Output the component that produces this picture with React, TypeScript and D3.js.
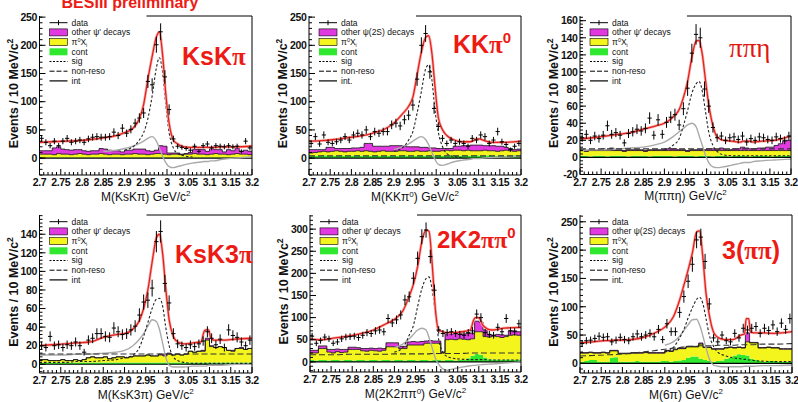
import * as d3 from 'd3'
import type { ReactNode } from 'react'

type V = number | null

const M_LO = 2.7
const M_HI = 3.2
const BIN = 0.01

// masses (GeV/c^2) at which the fit curves are sampled, shared by all channels
const CURVE_M = [2.70, 2.73, 2.76, 2.79, 2.82, 2.85, 2.88, 2.90, 2.92, 2.935, 2.945, 2.955, 2.965, 2.975, 2.982, 2.99, 2.997, 3.005, 3.015, 3.025, 3.04, 3.06, 3.08, 3.088, 3.092, 3.098, 3.102, 3.11, 3.13, 3.16, 3.20]

const X_TICKS = [2.7, 2.75, 2.8, 2.85, 2.9, 2.95, 3, 3.05, 3.1, 3.15, 3.2]
const X_TICK_LABELS = ['2.7', '2.75', '2.8', '2.85', '2.9', '2.95', '3', '3.05', '3.1', '3.15', '3.2']

// ---- KsKπ
const KSKPI_DATA = [35, 28, 22, 30, 22, 30, 35, 28, 30, 32, 28, 34, 37, 38, 37, 37, 38, 46, 40, 53, 44, 51, 62, 71, 80, 136, 130, 201, 224, 144, 86, 34, 21, 19, 17, 14, 21, 12, 22, 25, 18, 22, 21, 20, 22, 20, 21, 12, 30, 18]
const KSKPI_CONT = [1, 1, 1, 1, 1, 1, 1, 1, 1, 1, 1, 1, 1, 1, 1, 1, 1, 1, 1, 1, 1, 1, 1, 1, 1, 1, 1, 1, 1, 1, 1, 1, 1, 1, 1, 1, 1, 1, 1, 1, 1, 1, 1, 1, 1, 1, 1, 1, 1, 1]
const KSKPI_PI0X = [6, 6, 6, 5, 7, 6, 6, 5, 6, 7, 6, 5, 6, 6, 7, 6, 5, 6, 6, 5, 6, 6, 7, 6, 6, 5, 6, 7, 7, 6, 5, 6, 6, 5, 6, 6, 7, 6, 6, 5, 6, 7, 6, 6, 5, 6, 7, 6, 6, 5]
const KSKPI_OTHER = [6, 6, 6, 12, 12, 9, 8, 8, 8, 7, 6, 6, 6, 6, 9, 9, 8, 6, 6, 5, 7, 7, 8, 9, 9, 7, 5, 6, 14, 14, 3, 2, 2, 1, 1, 3, 7, 9, 8, 6, 10, 7, 8, 4, 9, 6, 10, 5, 7, 6]
const KSKPI_FIT: V[] = [28, 29, 30, 31, 33, 36, 40, 45, 53, 70, 95, 140, 180, 215, 224, 180, 115, 62, 32, 25, 20, 19, 19, 19, 19, 19, 19, 19, 20, 20, 21]
const KSKPI_SIG: V[] = [null, null, null, null, null, null, null, 14, 20, 32, 45, 70, 110, 160, 178, 150, 95, 45, 18, 8, 4, 2, null, null, null, null, null, null, null, null, null]
const KSKPI_INT: V[] = [null, null, null, null, null, 12, 14, 17, 21, 26, 30, 35, 38, 30, 18, 3, -8, -15, -17, -15, -12, -9, -7, -6, -6, -6, -5, -5, -2, 0, 2]
const KSKPI_NONRESO: V[] = []

// ---- KKπ0
const KKPI0_DATA = [26, 38, 25, 41, 28, 26, 29, 32, 38, 32, 41, 44, 41, 50, 38, 47, 44, 47, 47, 59, 62, 57, 68, 76, 94, 140, 200, 221, 153, 88, 56, 35, 26, 32, 26, 29, 26, 21, 35, 32, 41, 38, 26, 32, 47, 29, 24, 15, 21, 26]
const KKPI0_CONT = [4, 4, 4, 5, 4, 4, 4, 5, 4, 4, 4, 5, 4, 4, 4, 5, 4, 4, 4, 5, 4, 4, 5, 4, 4, 4, 5, 4, 4, 4, 5, 4, 4, 5, 4, 4, 5, 4, 4, 5, 4, 4, 5, 4, 4, 5, 4, 4, 5, 4]
const KKPI0_PI0X = [5, 6, 7, 7, 7, 8, 9, 7, 7, 8, 8, 8, 8, 9, 8, 6, 8, 9, 8, 7, 8, 9, 8, 8, 8, 9, 7, 8, 9, 8, 7, 9, 10, 8, 10, 10, 8, 10, 9, 8, 9, 10, 8, 9, 8, 8, 10, 9, 7, 9]
const KKPI0_OTHER = [6, 5, 4, 3, 8, 7, 4, 5, 6, 5, 6, 5, 7, 13, 14, 10, 9, 8, 9, 10, 10, 9, 8, 8, 8, 7, 7, 7, 5, 6, 5, 4, 3, 4, 7, 7, 9, 8, 10, 10, 10, 8, 9, 9, 9, 8, 5, 4, 3, 3]
const KKPI0_FIT: V[] = [30, 31, 33, 36, 39, 44, 52, 62, 78, 92, 108, 148, 188, 214, 217, 185, 128, 72, 50, 40, 33, 29, 29, 31, 33, 34, 34, 32, 28, 28, 30]
const KKPI0_SIG: V[] = [null, null, null, null, null, null, null, 12, 18, 32, 47, 80, 118, 158, 165, 138, 86, 46, 20, 8, 3, 1, null, null, null, null, null, null, null, null, null]
const KKPI0_INT: V[] = [null, null, null, null, null, null, null, 15, 20, 25, 30, 35, 38, 33, 24, 10, -2, -11, -13, -11, -7, -4, -2, -1, -1, -1, -1, 0, 1, 2, 3]
const KKPI0_NONRESO: V[] = [4, 4, 4, 4, 4, 4, 4, 4, 4, 4, 4, 4, 4, 4, 4, 4, 4, 4, 4, 4, 4, 4, 4, 4, 4, 4, 4, 4, 4, 4, 4]

// ---- ππη
const PIPIETA_DATA = [23, 27, 20, 25, 22, 26, 37, 27, 29, 26, 17, 28, 30, 33, 31, 34, 46, 26, 44, 27, 41, 47, 50, 38, 57, 81, 122, 144, 140, 80, 60, 35, 23, 25, 20, 23, 24, 21, 25, 18, 22, 20, 24, 23, 21, 20, 24, 22, 20, 25]
const PIPIETA_CONT = [2, 2, 1, 2, 2, 2, 1, 2, 2, 2, 2, 1, 2, 2, 2, 2, 1, 2, 2, 2, 2, 2, 1, 2, 2, 2, 2, 1, 2, 2, 2, 1, 2, 2, 2, 1, 2, 2, 2, 2, 1, 2, 2, 2, 2, 1, 2, 2, 2, 2]
const PIPIETA_PI0X = [6, 5, 7, 6, 6, 6, 7, 6, 6, 6, 5, 7, 6, 6, 6, 5, 7, 6, 6, 6, 6, 6, 7, 6, 6, 5, 6, 7, 6, 6, 6, 7, 6, 6, 6, 7, 6, 6, 6, 6, 7, 6, 6, 6, 6, 7, 6, 6, 6, 6]
const PIPIETA_OTHER = [1, 1, 1, 1, 1, 2, 1, 3, 1, 1, 1, 1, 1, 1, 1, 1, 1, 1, 1, 1, 2, 2, 2, 1, 1, 1, 1, 1, 1, 1, 2, 2, 1, 3, 1, 1, 2, 2, 4, 3, 2, 2, 3, 3, 4, 4, 6, 8, 11, 12]
const PIPIETA_FIT: V[] = [22, 23, 25, 27, 29, 33, 37, 40, 47, 56, 70, 89, 117, 136, 137, 120, 92, 62, 37, 24, 20, 19, 18, 19, 19, 19, 19, 18, 19, 20, 25]
const PIPIETA_SIG: V[] = [null, null, null, null, null, null, null, 8, 14, 22, 37, 55, 75, 86, 89, 77, 55, 30, 14, 7, 3, 2, 2, 2, 2, 2, 2, 2, 2, 2, 2]
const PIPIETA_INT: V[] = [8, 9, 9, 10, 11, 12, 15, 18, 24, 30, 34, 38, 40, 36, 26, 14, 3, -6, -11, -12, -11, -9, -7, -6, -6, -6, -6, -5, -4, -3, -2]
const PIPIETA_NONRESO: V[] = [10, 10, 10, 10, 10, 10, 10, 10, 10, 10, 10, 10, 10, 10, 10, 10, 10, 10, 10, 10, 10, 10, 10, 10, 10, 10, 10, 10, 10, 10, 10]

// ---- KsK3π
const KSK3PI_DATA = [20, 18, 30, 20, 21, 18, 21, 20, 24, 20, 13, 26, 28, 33, 33, 30, 29, 39, 35, 32, 33, 37, 41, 53, 67, 69, 82, 132, 143, 87, 66, 33, 22, 20, 18, 21, 19, 22, 25, 35, 28, 21, 27, 18, 37, 31, 29, 24, 20, 26]
const KSK3PI_CONT = [2, 2, 2, 2, 2, 2, 2, 2, 2, 2, 2, 2, 2, 2, 2, 2, 2, 2, 2, 2, 2, 2, 2, 2, 2, 2, 2, 2, 2, 2, 2, 2, 2, 2, 2, 2, 2, 2, 2, 2, 2, 2, 2, 2, 2, 2, 2, 2, 2, 2]
const KSK3PI_PI0X = [3, 3, 2, 2, 2, 3, 2, 2, 3, 2, 3, 5, 6, 5, 5, 6, 4, 5, 6, 6, 5, 6, 7, 7, 7, 8, 7, 7, 8, 7, 9, 8, 9, 8, 9, 12, 11, 12, 12, 24, 17, 16, 17, 16, 13, 12, 15, 15, 14, 15]
const KSK3PI_OTHER = [0, 0, 0, 0, 0, 0, 0, 0, 0, 0, 0, 0, 0, 0, 0, 0, 0, 0, 0, 0, 0, 0, 0, 0, 0, 0, 0, 0, 1, 2, 1, 0, 0, 0, 0, 0, 0, 0, 1, 2, 1, 0, 0, 0, 0, 1, 0, 1, 0, 0]
const KSK3PI_FIT: V[] = [20, 21, 22, 23, 24, 29, 32, 33, 38, 47, 60, 80, 110, 136, 140, 118, 82, 48, 30, 24, 22, 23, 24, 36, 37, 37, 30, 26, 26, 27, 28]
const KSK3PI_SIG: V[] = [2, 2, 2, 3, 3, 4, 5, 7, 10, 18, 30, 45, 60, 70, 71, 62, 40, 20, 8, 4, 2, 1, 1, 1, 1, 1, 1, 1, 1, 1, 1]
const KSK3PI_INT: V[] = [10, 10, 10, 11, 11, 12, 13, 15, 20, 27, 33, 41, 48, 46, 38, 22, 8, -1, -3, -3, -3, -2, -2, -2, -2, -1, -1, -1, -1, 0, 0]
const KSK3PI_NONRESO: V[] = [11, 11, 11, 11, 11, 11, 11, 11, 11, 11, 11, 11, 11, 11, 11, 11, 11, 11, 11, 11, 11, 11, 11, 11, 11, 11, 11, 11, 11, 11, 11]

// ---- 2K2ππ0
const K2PIPI0_DATA = [58, 42, 48, 56, 52, 42, 45, 52, 56, 57, 58, 55, 60, 66, 64, 70, 72, 68, 98, 88, 95, 106, 140, 147, 189, 234, 283, 298, 238, 162, 72, 64, 66, 68, 64, 62, 60, 66, 70, 108, 100, 66, 62, 60, 78, 68, 98, 70, 68, 86]
const K2PIPI0_CONT = [4, 3, 4, 4, 3, 4, 4, 3, 4, 4, 3, 4, 4, 3, 4, 4, 3, 4, 4, 3, 4, 4, 3, 4, 4, 3, 4, 4, 3, 4, 4, 3, 4, 4, 3, 4, 4, 8, 14, 18, 16, 10, 6, 5, 5, 4, 5, 5, 4, 5]
const K2PIPI0_PI0X = [16, 17, 26, 26, 19, 16, 19, 18, 18, 24, 25, 24, 21, 21, 22, 21, 21, 22, 30, 31, 30, 26, 27, 34, 34, 35, 34, 38, 39, 38, 38, 17, 46, 47, 47, 48, 47, 42, 38, 50, 52, 47, 50, 53, 52, 51, 52, 55, 57, 55]
const K2PIPI0_OTHER = [6, 6, 6, 6, 6, 8, 6, 7, 6, 5, 5, 4, 5, 6, 5, 5, 7, 4, 9, 9, 9, 5, 5, 7, 8, 7, 8, 5, 6, 5, 5, 2, 14, 12, 15, 12, 12, 14, 13, 24, 22, 15, 5, 2, 5, 6, 3, 10, 9, 8]
const K2PIPI0_FIT: V[] = [52, 50, 54, 58, 64, 72, 86, 96, 115, 148, 175, 215, 272, 298, 295, 215, 120, 72, 68, 66, 66, 68, 72, 95, 100, 100, 98, 82, 72, 76, 78]
const K2PIPI0_SIG: V[] = [null, null, null, null, null, null, null, 22, 32, 60, 82, 125, 165, 188, 192, 160, 110, 50, 22, 12, 8, 6, 5, 5, 5, 5, 5, 5, 4, 4, 4]
const K2PIPI0_INT: V[] = [null, null, null, null, null, null, null, 32, 40, 52, 62, 72, 76, 72, 55, 30, 8, -6, -16, -19, -16, -12, -9, -8, -8, -7, -7, -6, -5, -3, 0]
const K2PIPI0_NONRESO: V[] = [16, 16, 16, 17, 17, 17, 17, 18, 18, 18, 18, 18, 18, 18, 18, 19, 19, 19, 19, 19, 19, 19, 20, 20, 20, 20, 20, 20, 20, 20, 20]

// ---- 3(ππ)
const PI6_DATA = [35, 40, 41, 44, 48, 46, 47, 38, 41, 46, 42, 40, 47, 52, 47, 50, 53, 47, 60, 42, 70, 56, 56, 90, 118, 145, 175, 218, 223, 180, 105, 45, 38, 50, 40, 38, 53, 45, 62, 59, 62, 65, 53, 62, 58, 68, 56, 71, 60, 79]
const PI6_CONT = [3, 4, 6, 6, 3, 3, 3, 10, 11, 3, 3, 3, 3, 4, 3, 3, 3, 3, 3, 4, 4, 3, 4, 5, 6, 10, 12, 12, 8, 6, 4, 3, 4, 5, 8, 10, 14, 16, 15, 14, 8, 6, 4, 3, 4, 4, 3, 3, 3, 3]
const PI6_PI0X = [15, 14, 13, 12, 15, 16, 15, 12, 11, 14, 14, 14, 15, 14, 15, 16, 15, 15, 15, 14, 18, 18, 20, 21, 20, 19, 17, 17, 26, 22, 24, 22, 21, 20, 19, 18, 13, 12, 12, 24, 28, 30, 23, 24, 24, 23, 24, 22, 22, 22]
const PI6_OTHER = [1, 1, 1, 1, 1, 1, 1, 1, 1, 1, 1, 1, 1, 1, 1, 1, 1, 1, 1, 1, 1, 1, 1, 1, 1, 1, 1, 1, 2, 1, 1, 1, 1, 1, 1, 1, 1, 1, 1, 16, 1, 1, 1, 1, 1, 1, 1, 1, 1, 1]
const PI6_FIT: V[] = [36, 38, 40, 41, 42, 46, 55, 64, 82, 112, 138, 165, 195, 232, 234, 185, 125, 85, 55, 46, 42, 42, 50, 52, 79, 79, 55, 54, 54, 53, 56]
const PI6_SIG: V[] = [null, null, null, null, null, null, null, 20, 28, 45, 60, 80, 98, 113, 117, 105, 80, 50, 30, 20, 14, 10, 8, 7, 7, 6, 6, 5, 4, 3, 3]
const PI6_INT: V[] = [null, null, null, null, null, null, null, 32, 38, 48, 58, 68, 77, 78, 68, 48, 28, 8, -3, -5, -6, -6, -6, -5, -5, -5, -5, -5, -4, -4, -3]
const PI6_NONRESO: V[] = [13, 14, 15, 16, 18, 20, 23, 25, 27, 28, 29, 30, 30, 30, 31, 31, 31, 31, 31, 32, 32, 32, 33, 33, 33, 33, 33, 33, 34, 34, 35]

const SANS = 'Liberation Sans, Arial, Helvetica, sans-serif'
const SERIF = 'Liberation Serif, Times New Roman, serif'
const MAGENTA = '#e03ae0'
const YELLOW = '#f5f51e'
const GREEN = '#30e830'
const RED = '#e6211c'
const LABEL_RED = '#ee1a14'

type Panel = {
  box: { l: number; r: number; t: number; b: number }
  yDomain: [number, number]
  yTicks: number[]
  yMinor: number
  data: number[]
  cont: number[]
  pi0x: number[]
  other: number[]
  fit: V[]
  sig: V[]
  int: V[]
  nonreso: V[]
  xTitle: ReactNode
  yUnit: string
  otherLabel: string
  intLabel: string
  label: ReactNode
}

const pi = (bold = true) => <tspan fontFamily={SERIF} fontWeight={bold ? 'bold' : 'normal'}>π</tspan>
const sup0 = <tspan dy={-10} fontSize={15}>0</tspan>

const PANELS: Panel[] = [
  {
    box: { l: 39.5, r: 252, t: 16, b: 175 }, yDomain: [-30, 252], yTicks: [0, 50, 100, 150, 200, 250], yMinor: 10,
    data: KSKPI_DATA, cont: KSKPI_CONT, pi0x: KSKPI_PI0X, other: KSKPI_OTHER,
    fit: KSKPI_FIT, sig: KSKPI_SIG, int: KSKPI_INT, nonreso: KSKPI_NONRESO,
    xTitle: <>M(KsKπ) GeV/c<tspan dy={-5} fontSize={8}>2</tspan></>, yUnit: 'MeV/c',
    otherLabel: "other ψ' decays", intLabel: 'int',
    label: <text x={182} y={65} fontSize={25} fontWeight="bold" fill={LABEL_RED} fontFamily={SANS}>KsK{pi()}</text>,
  },
  {
    box: { l: 309, r: 521, t: 16, b: 175 }, yDomain: [-30, 252], yTicks: [0, 50, 100, 150, 200, 250], yMinor: 10,
    data: KKPI0_DATA, cont: KKPI0_CONT, pi0x: KKPI0_PI0X, other: KKPI0_OTHER,
    fit: KKPI0_FIT, sig: KKPI0_SIG, int: KKPI0_INT, nonreso: KKPI0_NONRESO,
    xTitle: <>M(KKπ<tspan dy={-4} fontSize={8}>0</tspan><tspan dy={4}>) GeV/c</tspan><tspan dy={-5} fontSize={8}>2</tspan></>, yUnit: 'MeV/c',
    otherLabel: 'other ψ(2S) decays', intLabel: 'int.',
    label: <text x={453} y={53} fontSize={25} fontWeight="bold" fill={LABEL_RED} fontFamily={SANS}>KK{pi()}{sup0}</text>,
  },
  {
    box: { l: 580, r: 791, t: 16, b: 174.5 }, yDomain: [-20, 165.5], yTicks: [-20, 0, 20, 40, 60, 80, 100, 120, 140, 160], yMinor: 4,
    data: PIPIETA_DATA, cont: PIPIETA_CONT, pi0x: PIPIETA_PI0X, other: PIPIETA_OTHER,
    fit: PIPIETA_FIT, sig: PIPIETA_SIG, int: PIPIETA_INT, nonreso: PIPIETA_NONRESO,
    xTitle: <>M(ππη) GeV/c<tspan dy={-5} fontSize={8}>2</tspan></>, yUnit: 'MeV/c',
    otherLabel: "other ψ' decays", intLabel: 'int',
    label: <text x={729} y={57} fontSize={27} fill="#e01812" fontFamily={SERIF}>ππη</text>,
  },
  {
    box: { l: 39.5, r: 252, t: 215, b: 373 }, yDomain: [-9.4, 160.7], yTicks: [0, 20, 40, 60, 80, 100, 120, 140], yMinor: 4,
    data: KSK3PI_DATA, cont: KSK3PI_CONT, pi0x: KSK3PI_PI0X, other: KSK3PI_OTHER,
    fit: KSK3PI_FIT, sig: KSK3PI_SIG, int: KSK3PI_INT, nonreso: KSK3PI_NONRESO,
    xTitle: <>M(KsK3π) GeV/c<tspan dy={-5} fontSize={8}>2</tspan></>, yUnit: 'MeV/c',
    otherLabel: "other ψ' decays", intLabel: 'int',
    label: <text x={175} y={263} fontSize={25} fontWeight="bold" fill={LABEL_RED} fontFamily={SANS}>KsK3{pi()}</text>,
  },
  {
    box: { l: 310, r: 521, t: 215, b: 372 }, yDomain: [-23, 332], yTicks: [0, 50, 100, 150, 200, 250, 300], yMinor: 10,
    data: K2PIPI0_DATA, cont: K2PIPI0_CONT, pi0x: K2PIPI0_PI0X, other: K2PIPI0_OTHER,
    fit: K2PIPI0_FIT, sig: K2PIPI0_SIG, int: K2PIPI0_INT, nonreso: K2PIPI0_NONRESO,
    xTitle: <>M(2K2ππ<tspan dy={-4} fontSize={8}>0</tspan><tspan dy={4}>) GeV/c</tspan><tspan dy={-5} fontSize={8}>2</tspan></>, yUnit: 'MeVc',
    otherLabel: "other ψ' decays", intLabel: 'int',
    label: <text x={437} y={248} fontSize={24} fontWeight="bold" fill={LABEL_RED} fontFamily={SANS}>2K2{pi()}{pi()}{sup0}</text>,
  },
  {
    box: { l: 580, r: 792, t: 215, b: 373 }, yDomain: [-17, 262], yTicks: [0, 50, 100, 150, 200, 250], yMinor: 10,
    data: PI6_DATA, cont: PI6_CONT, pi0x: PI6_PI0X, other: PI6_OTHER,
    fit: PI6_FIT, sig: PI6_SIG, int: PI6_INT, nonreso: PI6_NONRESO,
    xTitle: <>M(6π) GeV/c<tspan dy={-5} fontSize={8}>2</tspan></>, yUnit: 'MeV/c',
    otherLabel: 'other ψ(2S) decays', intLabel: 'int.',
    label: <text x={722} y={259} fontSize={25} fontWeight="bold" fill={LABEL_RED} fontFamily={SANS}>3({pi()}{pi()})</text>,
  },
]

type Row = { cont: number; pi0x: number; other: number }

function HistPanel({ p, idx }: { p: Panel; idx: number }) {
  const { l, r, t, b } = p.box
  const x = d3.scaleLinear().domain([M_LO, M_HI]).range([l, r])
  const y = d3.scaleLinear().domain(p.yDomain).range([b, t])
  const edge = (i: number) => M_LO + i * BIN

  const rows: Row[] = p.data.map((_, i) => ({ cont: p.cont[i], pi0x: p.pi0x[i], other: p.other[i] }))
  const layers = d3.stack<Row>().keys(['cont', 'pi0x', 'other'])(rows)
  const fills = [GREEN, YELLOW, MAGENTA]

  const area = d3.area<[number, number, number]>().x(d => x(d[0])).y0(d => y(d[1])).y1(d => y(d[2]))
  const step = d3.line<[number, number]>().x(d => x(d[0])).y(d => y(d[1]))
  const curve = d3.line<V>()
    .defined(v => v != null)
    .x((_, i) => x(CURVE_M[i]))
    .y(v => y(v as number))
    .curve(d3.curveMonotoneX)

  const clipId = `plot-clip-${idx}`
  const minorY = d3.range(Math.ceil(p.yDomain[0] / p.yMinor) * p.yMinor, p.yDomain[1], p.yMinor)
  const minorX = d3.range(0, 51).map(edge)

  // legend geometry
  const sx0 = l + 10
  const sx1 = l + 28
  const tx = l + 32
  const rowY = (k: number) => t + 6.7 + 9.7 * k

  return (
    <g>
      <defs>
        <clipPath id={clipId}>
          <rect x={l} y={t} width={r - l} height={b - t} />
        </clipPath>
      </defs>

      <g clipPath={`url(#${clipId})`}>
        {layers.map((layer, k) => {
          const pts = layer.flatMap((d, i) => [
            [edge(i), d[0], d[1]] as [number, number, number],
            [edge(i + 1), d[0], d[1]] as [number, number, number],
          ])
          return <path key={`f${k}`} d={area(pts) ?? ''} fill={fills[k]} stroke="none" />
        })}
        {layers.slice(1).map((layer, k) => {
          const pts = layer.flatMap((d, i) => [
            [edge(i), d[1]] as [number, number],
            [edge(i + 1), d[1]] as [number, number],
          ])
          return <path key={`o${k}`} d={step(pts) ?? ''} fill="none" stroke="#111" strokeWidth={0.8} />
        })}
        <line x1={l} x2={r} y1={y(0)} y2={y(0)} stroke="#000" strokeWidth={1.2} />

        <path d={curve(p.int) ?? ''} fill="none" stroke="#aaa" strokeWidth={1.4} />
        {p.nonreso.length > 0 && (
          <path d={curve(p.nonreso) ?? ''} fill="none" stroke="#333" strokeWidth={1.1} strokeDasharray="6 3" />
        )}
        <path d={curve(p.sig) ?? ''} fill="none" stroke="#222" strokeWidth={1.1} strokeDasharray="2.5 2" />

        <path d={curve(p.fit) ?? ''} fill="none" stroke="#f6b2b0" strokeWidth={2.8} />
        <path d={curve(p.fit) ?? ''} fill="none" stroke={RED} strokeWidth={1.3} />

        {p.data.map((v, i) => {
          const cx = x(edge(i) + BIN / 2)
          const e = Math.sqrt(v)
          return (
            <g key={`d${i}`} stroke="#000" strokeWidth={1}>
              <line x1={cx} x2={cx} y1={y(v - e)} y2={y(v + e)} />
              <line x1={x(edge(i))} x2={x(edge(i + 1))} y1={y(v)} y2={y(v)} />
            </g>
          )
        })}
      </g>

      {/* frame and ticks */}
      <g stroke="#000" strokeWidth={1} fill="none">
        <line x1={l} x2={l} y1={t} y2={b} />
        <line x1={l} x2={r} y1={b} y2={b} />
        <line x1={r} x2={r} y1={t} y2={b} />
        <line x1={l + 107} x2={r} y1={t} y2={t} />
        {minorX.map((m, i) => (
          <line key={`mx${i}`} x1={x(m)} x2={x(m)} y1={b} y2={b - (i % 5 === 0 ? 6 : 3)} />
        ))}
        {minorY.map((v, i) => (
          <line key={`my${i}`} x1={l} x2={l + 3} y1={y(v)} y2={y(v)} />
        ))}
        {p.yTicks.map(v => (
          <line key={`ty${v}`} x1={l} x2={l + 6} y1={y(v)} y2={y(v)} />
        ))}
      </g>

      <g fontFamily={SANS} fontSize={10.5} fontWeight="bold" fill="#111">
        {X_TICKS.map((m, i) => (
          <text key={`lx${i}`} x={x(m)} y={b + 11} textAnchor="middle" letterSpacing={-0.4}>
            {X_TICK_LABELS[i]}
          </text>
        ))}
        {p.yTicks.map(v => (
          <text key={`ly${v}`} x={l - 2.5} y={y(v)} dy="0.36em" textAnchor="end" letterSpacing={-0.3}>
            {v}
          </text>
        ))}
      </g>

      <text x={(l + r) / 2} y={b + 25.5} textAnchor="middle" fontFamily={SANS} fontSize={12} fill="#111">
        {p.xTitle}
      </text>
      <text
        transform={`translate(${l - 22},${(t + b) / 2 - 2}) rotate(-90)`}
        textAnchor="middle"
        fontFamily={SANS}
        fontSize={12.5}
        fontWeight="bold"
        fill="#111"
      >
        Events / 10 {p.yUnit}<tspan dy={-5} fontSize={8.5}>2</tspan>
      </text>

      {/* legend */}
      <g fontFamily={SANS} fontSize={8.5} fill="#111">
        <line x1={sx0} x2={sx1} y1={rowY(0)} y2={rowY(0)} stroke="#000" />
        <line x1={(sx0 + sx1) / 2} x2={(sx0 + sx1) / 2} y1={rowY(0) - 2.5} y2={rowY(0) + 2.5} stroke="#000" />
        <text x={tx} y={rowY(0)} dy="0.35em">data</text>

        <rect x={sx0} y={rowY(1) - 3.5} width={sx1 - sx0} height={7} fill={MAGENTA} stroke="#000" strokeWidth={0.6} />
        <text x={tx} y={rowY(1)} dy="0.35em">{p.otherLabel}</text>

        <rect x={sx0} y={rowY(2) - 3.5} width={sx1 - sx0} height={7} fill={YELLOW} stroke="#000" strokeWidth={0.6} />
        <text x={tx} y={rowY(2)} dy="0.35em">π<tspan dy={-3} fontSize={5.5}>0</tspan><tspan dy={3}>X</tspan><tspan dy={2} fontSize={5}>i</tspan></text>

        <rect x={sx0} y={rowY(3) - 3.5} width={sx1 - sx0} height={7} fill={GREEN} />
        <text x={tx} y={rowY(3)} dy="0.35em">cont</text>

        <line x1={sx0} x2={sx1} y1={rowY(4)} y2={rowY(4)} stroke="#000" strokeDasharray="2 1.5" />
        <text x={tx} y={rowY(4)} dy="0.35em">sig</text>

        <line x1={sx0} x2={sx1} y1={rowY(5)} y2={rowY(5)} stroke="#000" strokeDasharray="5 2" />
        <text x={tx} y={rowY(5)} dy="0.35em">non-reso</text>

        <line x1={sx0} x2={sx1} y1={rowY(6)} y2={rowY(6)} stroke="#000" strokeWidth={1.2} />
        <text x={tx} y={rowY(6)} dy="0.35em">{p.intLabel}</text>
      </g>

      {p.label}
    </g>
  )
}

export default function App() {
  return (
    <svg
      width={798}
      height={402}
      viewBox="0 0 798 402"
      style={{ position: 'absolute', left: 0, top: 0, background: '#fff' }}
    >
      <rect width={798} height={402} fill="#fff" />
      {PANELS.map((p, i) => (
        <HistPanel key={i} p={p} idx={i} />
      ))}
      <text x={130} y={7.5} textAnchor="middle" fontFamily={SANS} fontSize={16} fontWeight="bold" fill={LABEL_RED}>
        BESIII preliminary
      </text>
    </svg>
  )
}
